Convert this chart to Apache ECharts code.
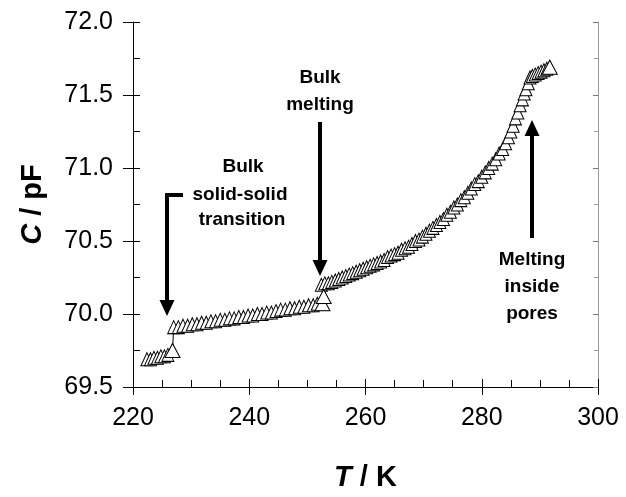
<!DOCTYPE html>
<html><head><meta charset="utf-8">
<script src="https://cdn.jsdelivr.net/npm/echarts@6/dist/echarts.min.js"></script>
<style>html,body{margin:0;padding:0;background:#fff}#c{width:626px;height:497px}</style>
</head><body><div id="c"></div>
<script>
// Temperature (K) and capacitance (pF) readings, in measurement order
const tempK = [
  222.4, 223.0, 223.6, 224.2, 224.8, 225.4, 226.0, 226.8,
  227.0, 227.8, 228.6, 229.4, 230.2, 231.0, 231.8, 232.6, 233.4, 234.2,
  235.0, 235.8, 236.6, 237.4, 238.2, 239.0, 239.8, 240.6, 241.4, 242.2,
  243.0, 243.8, 244.6, 245.4, 246.2, 247.0, 247.8, 248.6, 249.4, 250.2,
  251.0, 251.7, 252.6, 252.8,
  252.4, 253.0, 253.6, 254.2, 254.8, 255.4, 256.0, 256.6, 257.2, 257.8,
  258.4, 259.0, 259.6, 260.2, 260.8, 261.4, 262.0, 262.6, 263.2, 263.8,
  264.4, 265.0, 265.6, 266.2, 266.8, 267.4, 268.0, 268.6, 269.2, 269.8,
  270.4, 271.0, 271.6, 272.2, 272.8, 273.4, 274.0, 274.6, 275.2, 275.8,
  276.4, 277.0, 277.6, 278.2, 278.8, 279.4, 280.0, 280.6, 281.2, 281.8,
  282.4, 283.0, 283.6, 284.1, 284.6, 285.0, 285.4, 285.8, 286.2, 286.6,
  287.0, 287.3, 287.6, 288.0, 288.3, 288.7, 289.2, 289.7, 290.2, 290.7,
  291.2, 291.7
];
const capPF = [
  69.69, 69.69, 69.70, 69.70, 69.71, 69.71, 69.72, 69.75,
  69.91, 69.91, 69.92, 69.92, 69.93, 69.93, 69.94, 69.94, 69.95, 69.95,
  69.96, 69.96, 69.97, 69.97, 69.98, 69.98, 69.99, 69.99, 70.00, 70.00,
  70.01, 70.01, 70.02, 70.03, 70.03, 70.04, 70.04, 70.05, 70.05, 70.06,
  70.06, 70.07, 70.07, 70.12,
  70.20, 70.21, 70.21, 70.22, 70.23, 70.24, 70.25, 70.26, 70.27, 70.28,
  70.29, 70.30, 70.31, 70.32, 70.33, 70.34, 70.35, 70.36, 70.37, 70.39,
  70.40, 70.41, 70.42, 70.44, 70.45, 70.46, 70.48, 70.50, 70.51, 70.53,
  70.55, 70.57, 70.59, 70.61, 70.63, 70.65, 70.68, 70.70, 70.73, 70.75,
  70.78, 70.80, 70.83, 70.86, 70.89, 70.91, 70.94, 70.97, 71.00, 71.03,
  71.06, 71.10, 71.13, 71.17, 71.21, 71.25, 71.29, 71.34, 71.38, 71.43,
  71.47, 71.51, 71.54, 71.58, 71.62, 71.63, 71.64, 71.65, 71.66, 71.67,
  71.68, 71.69
];
// Points drawn with a larger marker
const bigTempK = [226.8, 252.6, 252.8, 291.7];
const bigCapPF = [69.75, 70.07, 70.12, 71.69];

const xTicks = [220, 240, 260, 280, 300];
const yTicks = [69.5, 70.0, 70.5, 71.0, 71.5, 72.0];

const FONT = 'Liberation Sans, Arial, Helvetica, sans-serif';

const mainData = tempK.map((t, i) => [t, capPF[i]]);
const bigData = bigTempK.map((t, i) => [t, bigCapPF[i]]);

const xMin = xTicks[0], xMax = xTicks[xTicks.length - 1], xInt = xTicks[1] - xTicks[0];
const yMin = yTicks[0], yMax = yTicks[yTicks.length - 1], yInt = yTicks[1] - yTicks[0];

const chart = echarts.init(document.getElementById('c'), null, {renderer: 'canvas'});

const annFont = {fontSize: 19, fontWeight: 'bold', fontFamily: FONT, fill: '#000', align: 'center', verticalAlign: 'middle'};
function txt(text, x, y) { return {type: 'text', x: x, y: y, z: 100, style: Object.assign({text: text}, annFont)}; }
function line(points) { return {type: 'polyline', z: 100, shape: {points: points}, style: {stroke: '#000', lineWidth: 4, fill: null}}; }
function head(points) { return {type: 'polygon', z: 100, shape: {points: points}, style: {fill: '#000'}}; }

const nameStyle = {fontSize: 29, fontWeight: 'bold', color: '#000', fontFamily: FONT,
  rich: {i: {fontSize: 29, fontWeight: 'bold', fontStyle: 'italic', color: '#000', fontFamily: FONT}}};

const option = {
  animation: false,
  backgroundColor: '#fff',
  grid: {left: 133, right: 28, top: 22, bottom: 102, containLabel: false},
  xAxis: [
    {
      type: 'value', min: xMin, max: xMax, interval: xInt, position: 'bottom',
      axisLine: {show: true, lineStyle: {color: '#000', width: 1}},
      axisTick: {show: true, inside: false, length: 8, lineStyle: {color: '#000', width: 1}},
      axisLabel: {fontSize: 25, color: '#000', margin: 19, fontFamily: FONT},
      splitLine: {show: false},
      name: '{i|T} / K', nameLocation: 'middle', nameGap: 76,
      nameTextStyle: nameStyle
    },
    {
      type: 'value', min: xMin, max: xMax, interval: xInt, position: 'bottom',
      axisLine: {show: false},
      axisTick: {show: true, inside: true, length: 8, lineStyle: {color: '#000', width: 1}},
      minorTick: {show: true, splitNumber: 4, length: 7, lineStyle: {color: '#000', width: 1}},
      axisLabel: {show: false}, splitLine: {show: false}
    }
  ],
  yAxis: [
    {
      type: 'value', min: yMin, max: yMax, interval: yInt, position: 'left',
      axisLine: {show: true, lineStyle: {color: '#000', width: 1}},
      axisTick: {show: true, inside: false, length: 10, lineStyle: {color: '#000', width: 1}},
      axisLabel: {fontSize: 25, color: '#000', margin: 20, fontFamily: FONT, formatter: v => v.toFixed(1)},
      splitLine: {show: false},
      name: '{i|C} / pF', nameLocation: 'middle', nameGap: 86,
      nameTextStyle: nameStyle
    },
    {
      type: 'value', min: yMin, max: yMax, interval: yInt, position: 'left',
      axisLine: {show: false},
      axisTick: {show: true, inside: true, length: 7, lineStyle: {color: '#000', width: 1}},
      minorTick: {show: true, splitNumber: 2, length: 7, lineStyle: {color: '#000', width: 1}},
      axisLabel: {show: false}, splitLine: {show: false}
    },
    {
      type: 'value', min: yMin, max: yMax, interval: yInt, position: 'right',
      axisLine: {show: true, lineStyle: {color: '#9a9a9a', width: 1}},
      axisTick: {show: true, inside: true, length: 5, lineStyle: {color: '#777', width: 1}},
      minorTick: {show: true, splitNumber: 2, length: 4, lineStyle: {color: '#999', width: 1}},
      axisLabel: {show: false}, splitLine: {show: false}
    }
  ],
  series: [
    {
      type: 'line', xAxisIndex: 0, yAxisIndex: 0, data: mainData,
      symbol: 'triangle', symbolSize: [12, 13], showSymbol: true, showAllSymbol: true,
      lineStyle: {color: '#000', width: 1},
      itemStyle: {color: '#fff', borderColor: '#000', borderWidth: 1},
      z: 2
    },
    {
      type: 'scatter', xAxisIndex: 0, yAxisIndex: 0, data: bigData,
      symbol: 'triangle', symbolSize: [15, 14],
      itemStyle: {color: '#fff', borderColor: '#000', borderWidth: 1, opacity: 1},
      z: 3
    }
  ],
  graphic: [
    // Bulk solid-solid transition
    txt('Bulk', 243, 167), txt('solid-solid', 240, 195), txt('transition', 242, 220),
    line([[183, 195], [167, 195], [167, 302]]),
    head([[159.5, 300], [174.5, 300], [167, 316]]),
    // Bulk melting
    txt('Bulk', 320, 78), txt('melting', 320, 105),
    line([[320, 122], [320, 262]]),
    head([[312.5, 260], [327.5, 260], [320, 276]]),
    // Melting inside pores
    txt('Melting', 532, 260), txt('inside', 532, 287), txt('pores', 532, 314),
    line([[532, 238], [532, 133]]),
    head([[524.5, 136], [539.5, 136], [532, 120]])
  ]
};
chart.setOption(option);
</script>
</body></html>
